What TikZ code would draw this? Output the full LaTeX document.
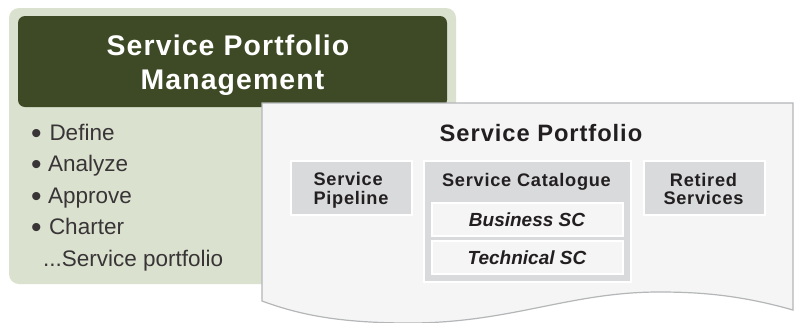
\documentclass[tikz,border=0pt]{standalone}
\usepackage{fontspec}
\setmainfont{Liberation Sans}
\newfontfamily\spaced[LetterSpace=4]{Liberation Sans}
\definecolor{panelgreen}{HTML}{DAE2CF}
\definecolor{darkgreen}{HTML}{3D4A25}
\definecolor{docfill}{HTML}{F5F5F5}
\definecolor{docline}{HTML}{B4B6B7}
\definecolor{boxgrey}{HTML}{D9DADC}
\definecolor{inkdark}{HTML}{231F20}
\newcommand{\bulletmark}{\makebox[18.5pt][l]{\raisebox{-3.2pt}{\fontsize{30}{30}\selectfont\textbullet}}}
\tikzset{
  x=1pt,y=-1pt,
  plain/.style={inner sep=0pt,outer sep=0pt,text=inkdark},
  titletext/.style={plain,text=white,align=center,font=\spaced\bfseries\fontsize{28.4}{34}\selectfont},
  listitem/.style={plain,anchor=base west,font=\fontsize{22.5}{25}\selectfont,text=inkdark!90!white},
  greybox/.style={draw=white,line width=1.2pt,fill=boxgrey},
  whitebox/.style={draw=white,line width=1.2pt,fill=docfill},
  boxtext/.style={plain,align=center,font=\spaced\bfseries\fontsize{18.2}{18.5}\selectfont},
  subtext/.style={plain,font=\bfseries\itshape\fontsize{19}{20}\selectfont},
}
\begin{document}
\begin{tikzpicture}
\useasboundingbox (0,0) rectangle (795,322);
\fill[white] (0,0) rectangle (795,322);
\fill[panelgreen,rounded corners=10pt] (9,8) rectangle (456,284);
\fill[darkgreen,rounded corners=7pt] (18,16) rectangle (447,107);
\node[titletext] (pm) at (228,65.5) {Service Portfolio\\\hspace*{9pt}Management};
\node[listitem] (l1) at (31,140) {\bulletmark Define};
\node[listitem] (l2) at (31,171.5) {\bulletmark\kern-1.5pt Analyze};
\node[listitem] (l3) at (31,203) {\bulletmark\kern-1.5pt Approve};
\node[listitem] (l4) at (31,234.5) {\bulletmark\kern-0.5pt Charter};
\node[listitem] (l5) at (43,266) {...Service portfolio};
\begin{scope}
\clip (0,0) rectangle (795,322);
\draw[draw=docline,fill=docfill,line width=1.2pt] (262,103) -- (793,103) -- (793,310)
  .. controls (740,295) and (700,292) .. (659,292)
  .. controls (570,292) and (510,323) .. (410,323)
  .. controls (340,323) and (300,315) .. (262,301) -- cycle;
\end{scope}
\node[plain,font=\spaced\bfseries\fontsize{23.7}{25}\selectfont] (sp) at (541,133) {Service Portfolio};
\draw[greybox] (291,161) rectangle (412,215);
\node[boxtext,align=left] (pipe) at (351,190.5) {Service\\Pipeline};
\draw[greybox] (424,161) rectangle (631,282);
\node[boxtext] (cat) at (526.5,182) {Service Catalogue};
\draw[whitebox] (432,203) rectangle (623,236);
\node[subtext] (bus) at (527,220) {Business SC};
\draw[whitebox] (432,241) rectangle (623,274);
\node[subtext] (tech) at (527,258) {Technical SC};
\draw[greybox] (644,161) rectangle (765,215);
\node[boxtext] (ret) at (703.5,189) {Retired\\Services};
\end{tikzpicture}
\end{document}
